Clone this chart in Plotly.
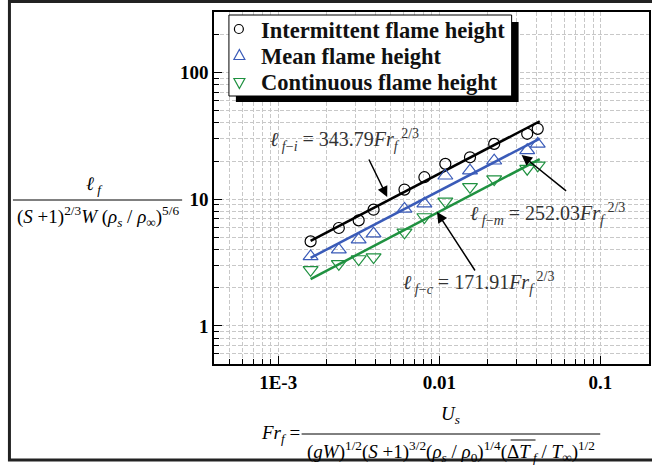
import math
import plotly.graph_objects as go

# ---------------- data ----------------
fr_x = [0.00159, 0.00238, 0.00316, 0.00391, 0.00608, 0.00808, 0.0109, 0.0155, 0.0219, 0.0351, 0.0408]
intermittent = [4.64, 5.92, 6.80, 8.26, 11.9, 14.9, 19.0, 21.4, 27.3, 32.8, 35.9]
mean_h = [3.53, 3.99, 4.79, 5.34, 8.37, 9.21, 15.3, 16.8, 20.1, 24.3, 27.3]
continuous = [2.77, 3.09, 3.37, 3.49, 5.47, 7.23, 9.61, 12.5, 14.4, 17.4, 18.5]

fit_x = [0.00159, 0.0420]
fit_i = [4.69, 41.2]
fit_m = [3.44, 30.1]
fit_c = [2.34, 20.7]

series_names = ["Intermittent flame height", "Mean flame height", "Continuous flame height"]

x_major = [0.001, 0.01, 0.1]
x_major_text = ["1E-3", "0.01", "0.1"]
x_minor = [m * d for d in [0.0001, 0.001, 0.01, 0.1] for m in range(1, 10)]
y_major = [1, 10, 100]
y_major_text = ["1", "10", "100"]
y_minor = [m * d for d in [0.1, 1, 10, 100] for m in range(1, 10)]

# ---------------- layout helpers ----------------
W, H = 652, 465
L, R, T, B = 214, 651, 12, 364
def px(x):
    return (x - L) / (R - L)
def py(y):
    return (B - y) / (B - T)

BLACK = "#000000"
BLUE = "#3a5bb8"
GREEN = "#1f9140"
SERIF = "Liberation Serif, Times New Roman, serif"
GRID = "#c8c8c8"
DASH = "4px,2px"

fig = go.Figure()

fig.add_trace(go.Scatter(x=fit_x, y=fit_i, mode="lines", line=dict(color=BLACK, width=2.5),
                         showlegend=False, hoverinfo="skip"))
fig.add_trace(go.Scatter(x=fit_x, y=fit_m, mode="lines", line=dict(color=BLUE, width=2.5),
                         showlegend=False, hoverinfo="skip"))
fig.add_trace(go.Scatter(x=fit_x, y=fit_c, mode="lines", line=dict(color=GREEN, width=2.5),
                         showlegend=False, hoverinfo="skip"))

fig.add_trace(go.Scatter(x=fr_x, y=intermittent, mode="markers", name=series_names[0], showlegend=False,
                         marker=dict(symbol="circle-open", size=11, color=BLACK, line=dict(width=1.2))))
fig.add_trace(go.Scatter(x=fr_x, y=mean_h, mode="markers", name=series_names[1], showlegend=False,
                         marker=dict(symbol="triangle-up-open", size=13, color=BLUE, line=dict(width=1.2))))
fig.add_trace(go.Scatter(x=fr_x, y=continuous, mode="markers", name=series_names[2], showlegend=False,
                         marker=dict(symbol="triangle-down-open", size=13, color=GREEN, line=dict(width=1.2))))

axis_common = dict(
    type="log", showline=True, linecolor=BLACK, linewidth=1.5, mirror=True,
    ticks="inside", ticklen=8, tickwidth=1.3, tickcolor=BLACK,
    showgrid=True, gridcolor=GRID, griddash=DASH, gridwidth=1,
    zeroline=False,
    tickfont=dict(family=SERIF, size=19, color=BLACK, weight="bold"),
)
minor_common = dict(tickmode="array", ticks="inside", ticklen=5, tickwidth=1.2, tickcolor=BLACK,
                    showgrid=True, gridcolor=GRID, griddash=DASH, gridwidth=1)

fig.update_xaxes(
    **axis_common,
    range=[math.log10(4e-4), math.log10(0.2)],
    tickmode="array", tickvals=x_major, ticktext=x_major_text,
    minor=dict(tickvals=x_minor, **minor_common),
)
fig.update_yaxes(
    **axis_common,
    range=[math.log10(0.5), math.log10(300)],
    tickmode="array", tickvals=y_major, ticktext=y_major_text,
    minor=dict(tickvals=y_minor, **minor_common),
)

shapes = []
# outer frame
shapes.append(dict(type="rect", xref="paper", yref="paper", x0=px(8.5), x1=px(720), y0=py(1.5), y1=py(460),
                   line=dict(color="#222222", width=3), fillcolor="rgba(0,0,0,0)", layer="above"))
# legend shadow + box
shapes.append(dict(type="rect", xref="paper", yref="paper", x0=px(236), x1=px(520), y0=py(22), y1=py(102),
                   line=dict(width=0), fillcolor="#000000", layer="above"))
shapes.append(dict(type="rect", xref="paper", yref="paper", x0=px(229), x1=px(513), y0=py(15), y1=py(96),
                   line=dict(color=BLACK, width=1), fillcolor="white", layer="above"))
# legend symbols
shapes.append(dict(type="circle", xref="paper", yref="paper", x0=px(234.5), x1=px(243.5), y0=py(24.5), y1=py(33.5),
                   line=dict(color=BLACK, width=1.2), fillcolor="rgba(0,0,0,0)", layer="above"))
def tri(cx, top, bot, up, color):
    hw = 5.5
    if up:
        pts = [(cx - hw, bot), (cx + hw, bot), (cx, top)]
    else:
        pts = [(cx - hw, top), (cx + hw, top), (cx, bot)]
    path = "M " + " L ".join(f"{px(a):.5f},{py(b):.5f}" for a, b in pts) + " Z"
    shapes.append(dict(type="path", xref="paper", yref="paper", path=path,
                       line=dict(color=color, width=1.2), fillcolor="rgba(0,0,0,0)", layer="above"))
tri(239.5, 49.5, 59.5, True, BLUE)
tri(239.5, 78.5, 88.5, False, GREEN)
# y title fraction bar
shapes.append(dict(type="line", xref="paper", yref="paper", x0=px(12), x1=px(182), y0=py(200), y1=py(200),
                   line=dict(color=BLACK, width=1), layer="above"))
# x title fraction bar
shapes.append(dict(type="line", xref="paper", yref="paper", x0=px(302), x1=px(602), y0=py(434), y1=py(434),
                   line=dict(color=BLACK, width=1), layer="above"))
# overline over ΔT
shapes.append(dict(type="line", xref="paper", yref="paper", x0=px(512), x1=px(537), y0=py(440), y1=py(440),
                   line=dict(color=BLACK, width=1), layer="above"))

ann = []
def text(xp, yp, s, size=17, color=BLACK, xanchor="center", bold=False):
    f = dict(family=SERIF, size=size, color=color)
    if bold:
        f["weight"] = "bold"
    ann.append(dict(xref="paper", yref="paper", x=px(xp), y=py(yp), text=s, showarrow=False,
                    xanchor=xanchor, yanchor="middle", font=f))

def arrow(hx, hy, tx, ty):
    ann.append(dict(xref="paper", yref="paper", x=px(hx), y=py(hy), axref="pixel", ayref="pixel",
                    ax=tx - hx, ay=ty - hy, text="", showarrow=True, arrowhead=2, arrowsize=1.4,
                    arrowwidth=1.5, arrowcolor=BLACK, standoff=0, startstandoff=0))

# legend texts
for name, yy in zip(series_names, [30, 56.5, 83]):
    text(259, yy, name, size=22.5, color="#111111", xanchor="left", bold=True)

EQ = "#333333"
text(345, 140, "<i>ℓ</i><sub> <i>f</i>−<i>i</i></sub> = 343.79<i>Fr</i><sub><i>f</i></sub><sup> 2/3</sup>", size=20, color=EQ)
text(549, 214, "<i>ℓ</i><sub> <i>f</i>−<i>m</i></sub> = 252.03<i>Fr</i><sub><i>f</i></sub><sup> 2/3</sup>", size=20, color=EQ)
text(480, 283, "<i>ℓ</i><sub> <i>f</i>−<i>c</i></sub> = 171.91<i>Fr</i><sub><i>f</i></sub><sup> 2/3</sup>", size=20, color=EQ)

arrow(388, 197, 369, 158)
arrow(523, 155, 569, 192)
arrow(438, 212, 477, 272)

# y axis title (fraction)
text(94, 185, "<i>ℓ</i><sub> <i>f</i></sub>", size=19)
text(97, 216, "(<i>S</i> +1)<sup>2/3</sup><i>W</i> (<i>ρ</i><sub><i>s</i></sub> / <i>ρ</i><sub>∞</sub>)<sup>5/6</sup>", size=19)

# x axis title (fraction)
text(281, 434, "<i>Fr</i><sub><i>f</i></sub> =", size=19)
text(452, 415, "<i>U</i><sub><i>s</i></sub>", size=19)
text(452, 451, "(<i>gW</i>)<sup>1/2</sup>(<i>S</i> +1)<sup>3/2</sup>(<i>ρ</i><sub><i>s</i></sub> / <i>ρ</i><sub>0</sub>)<sup>1/4</sup>(Δ<i>T</i><sub> <i>f</i></sub> / <i>T</i><sub>∞</sub>)<sup>1/2</sup>", size=19)

fig.update_layout(
    width=W, height=H,
    margin=dict(l=L, r=W - R, t=T, b=H - B),
    paper_bgcolor="white", plot_bgcolor="white",
    showlegend=False,
    shapes=shapes, annotations=ann,
    font=dict(family=SERIF),
)

fig.write_html("out.html")
